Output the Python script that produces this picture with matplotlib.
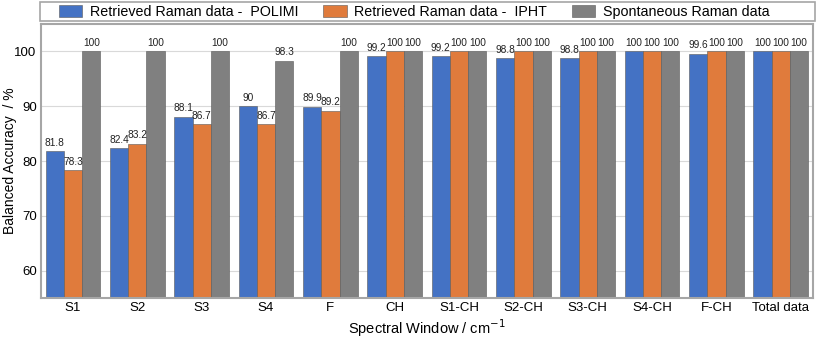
import numpy as np
import matplotlib.pyplot as plt
from matplotlib.patches import Rectangle

plt.rcParams['font.family'] = ['Liberation Sans', 'DejaVu Sans']

categories = ["S1", "S2", "S3", "S4", "F", "CH", "S1-CH", "S2-CH", "S3-CH", "S4-CH", "F-CH", "Total data"]
polimi = [81.8, 82.4, 88.1, 90, 89.9, 99.2, 99.2, 98.8, 98.8, 100, 99.6, 100]
ipht = [78.3, 83.2, 86.7, 86.7, 89.2, 100, 100, 100, 100, 100, 100, 100]
spont = [100, 100, 100, 98.3, 100, 100, 100, 100, 100, 100, 100, 100]

series = [
    ("Retrieved Raman data -  POLIMI", polimi, "#4472C4"),
    ("Retrieved Raman data -  IPHT", ipht, "#E07B3C"),
    ("Spontaneous Raman data", spont, "#808080"),
]

fig = plt.figure(figsize=(8.17, 3.38), dpi=100)
ax = fig.add_axes([0.050, 0.118, 0.945, 0.811])

x = np.arange(len(categories))
width = 0.284
for i, (name, vals, col) in enumerate(series):
    pos = x + (i - 1) * width
    ax.bar(pos, vals, width, color=col, edgecolor='#5a5a5a', linewidth=0.4, label=name, zorder=2)
    for xp, v in zip(pos, vals):
        ax.text(xp, v + 0.6, f"{v:g}", ha='center', va='bottom', fontsize=7.3, color='#222222')

ax.set_xlim(-0.5, len(categories) - 0.5)
ax.set_ylim(55, 105)
ax.set_yticks([60, 70, 80, 90, 100])
ax.set_xticks(x)
ax.set_xticklabels(categories)
ax.tick_params(axis='both', length=0, labelsize=9.5, pad=3)
ax.grid(axis='y', color='#D9D9D9', linewidth=0.8, zorder=0)
for s in ax.spines.values():
    s.set_color('#A6A6A6')
    s.set_linewidth(1.5)

ax.set_ylabel("Balanced Accuracy  / %", fontsize=10)
ax.yaxis.set_label_coords(-0.031, 0.5)
ax.set_xlabel("Spectral Window / cm$^{-1}$", fontsize=10.5, labelpad=2)

# legend box across the top
fig.patches.append(Rectangle((0.049, 0.937), 0.949, 0.056, transform=fig.transFigure,
                             facecolor='white', edgecolor='#A6A6A6', linewidth=1.2))
leg = fig.legend(loc='center', bbox_to_anchor=(0.507, 0.965), ncol=3, fontsize=10.3,
                 frameon=False, handlelength=1.65, handleheight=0.95, columnspacing=1.7,
                 handletextpad=0.55, borderaxespad=0)

fig.savefig("out.png", dpi=100)
